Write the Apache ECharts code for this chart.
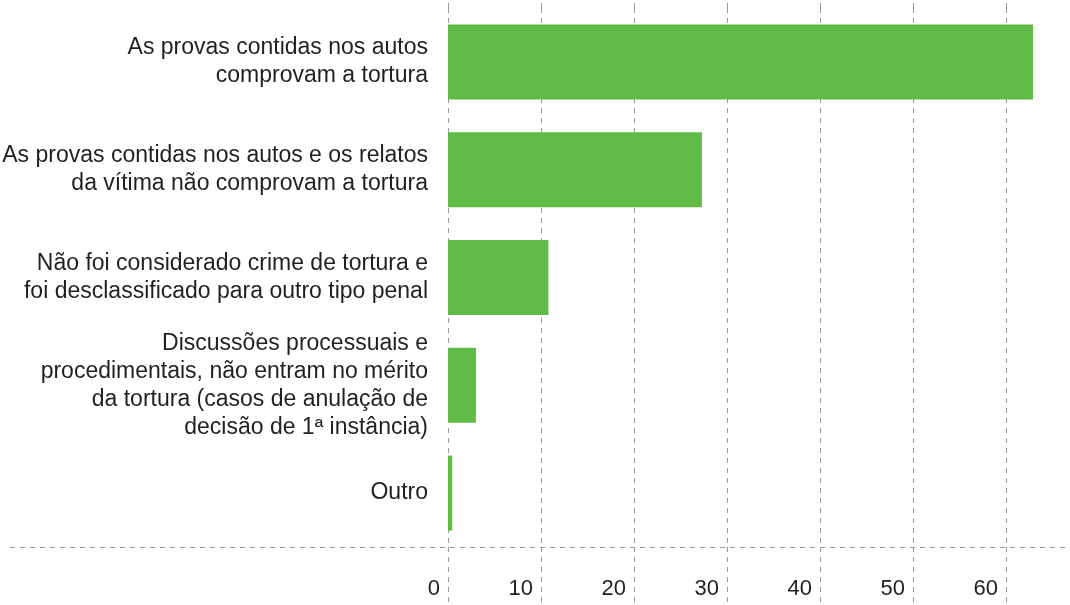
<!DOCTYPE html>
<html>
<head>
<meta charset="utf-8">
<script src="https://cdn.jsdelivr.net/npm/echarts@6/dist/echarts.min.js"></script>
<style>
  html, body { margin: 0; padding: 0; background: #fff; }
  #chart { width: 1070px; height: 605px; }
</style>
</head>
<body>
<div id="chart"></div>
<script>
// categorias (de cima para baixo)
var categories = [
  'As provas contidas nos autos\ncomprovam a tortura',
  'As provas contidas nos autos e os relatos\nda vítima não comprovam a tortura',
  'Não foi considerado crime de tortura e\nfoi desclassificado para outro tipo penal',
  'Discussões processuais e\nprocedimentais, não entram no mérito\nda tortura (casos de anulação de\ndecisão de 1ª instância)',
  'Outro'
]
var values = [62.9, 27.3, 10.8, 3.0, 0.45]
var tickValues = [0, 10, 20, 30, 40, 50, 60]

var gridColor = '#999'
var textColor = '#231f20'
var font = '"Liberation Sans", Arial, sans-serif'
var dashed = { color: gridColor, type: [5, 5], width: 1 }

var chart = echarts.init(document.getElementById('chart'))

var option = {
  animation: false,
  grid: {
    left: 448,
    right: 64,
    top: 8,
    bottom: 58,
    containLabel: false,
    outerBoundsMode: 'none'
  },
  xAxis: [{
    type: 'value',
    min: tickValues[0],
    max: tickValues[tickValues.length - 1],
    interval: 10,
    axisLine: { show: false },
    axisTick: { show: true, length: 58, lineStyle: dashed },
    splitLine: { show: true, lineStyle: dashed },
    axisLabel: {
      margin: 31,
      align: 'right',
      padding: [0, 8, 0, 0],
      color: textColor,
      fontSize: 22,
      fontFamily: font
    }
  }, {
    // só para prolongar as linhas de grade até o topo
    type: 'value',
    position: 'top',
    min: tickValues[0],
    max: tickValues[tickValues.length - 1],
    interval: 10,
    axisLine: { show: false },
    axisTick: { show: true, length: 8, lineStyle: dashed },
    splitLine: { show: false },
    axisLabel: { show: false }
  }],
  yAxis: {
    type: 'category',
    inverse: true,
    data: categories,
    axisLine: { show: false },
    axisTick: { show: false },
    splitLine: { show: false },
    axisLabel: {
      margin: 20,
      color: textColor,
      fontSize: 23,
      lineHeight: 28,
      fontFamily: font,
      align: 'right'
    }
  },
  // linha de base tracejada, atravessa todo o gráfico
  graphic: [{
    type: 'line',
    shape: { x1: 10, y1: 547.5, x2: 1065, y2: 547.5 },
    style: { stroke: gridColor, lineWidth: 1, lineDash: [5, 5] },
    z: 10
  }],
  series: [{
    type: 'bar',
    data: values,
    barWidth: 75,
    clip: false,
    itemStyle: { color: '#60bb46' },
    z: 1
  }]
}

chart.setOption(option)
</script>
</body>
</html>
